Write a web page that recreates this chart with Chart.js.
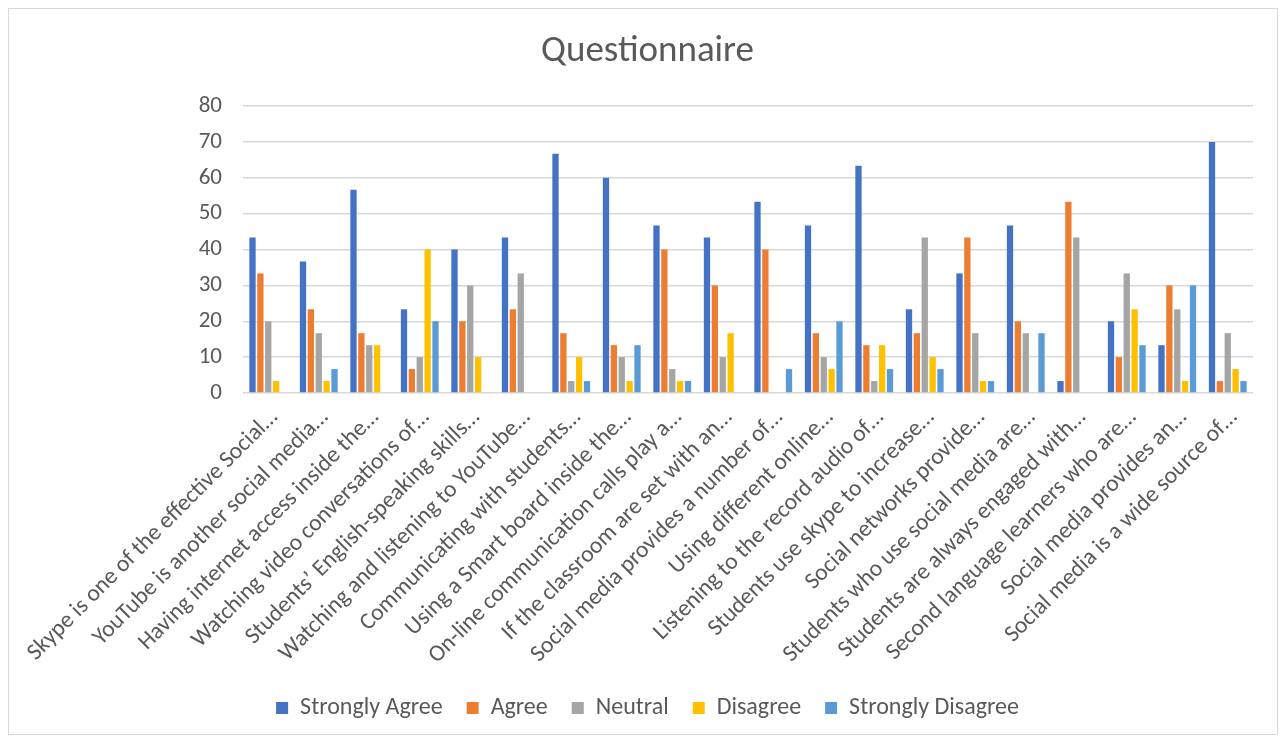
<!DOCTYPE html>
<html>
<head>
<meta charset="utf-8">
<title>Questionnaire</title>
<script src="https://cdn.jsdelivr.net/npm/chart.js@4.4.1/dist/chart.umd.min.js"></script>
<style>
  body { margin: 0; background: #fff; }
  #frame { position: absolute; left: 8px; top: 8px; width: 1270px; height: 727px; border: 1px solid #d9d9d9; box-sizing: border-box; }
  #chart { position: absolute; left: 0; top: 0; }
</style>
</head>
<body>
<div id="frame"></div>
<canvas id="chart" width="1285" height="740"></canvas>
<script>
const statements = [
  'Skype is one of the effective Social…',
  'YouTube is another social media…',
  'Having internet access inside the…',
  'Watching video conversations of…',
  'Students’ English-speaking skills…',
  'Watching and listening to YouTube…',
  'Communicating with students…',
  'Using a Smart board inside the…',
  'On-line communication calls play a…',
  'If the classroom are set with an…',
  'Social media provides a number of…',
  'Using different online…',
  'Listening to the record audio of…',
  'Students use skype to increase…',
  'Social networks provide…',
  'Students who use social media are…',
  'Students are always engaged with…',
  'Second language learners who are…',
  'Social media provides an…',
  'Social media is a wide source of…'
];

// percentage of respondents per answer
const stronglyAgree    = [43.33, 36.67, 56.67, 23.33, 40, 43.33, 66.67, 60, 46.67, 43.33, 53.33, 46.67, 63.33, 23.33, 33.33, 46.67, 3.33, 20, 13.33, 70];
const agree            = [33.33, 23.33, 16.67, 6.67, 20, 23.33, 16.67, 13.33, 40, 30, 40, 16.67, 13.33, 16.67, 43.33, 20, 53.33, 10, 30, 3.33];
const neutral          = [20, 16.67, 13.33, 10, 30, 33.33, 3.33, 10, 6.67, 10, 0, 10, 3.33, 43.33, 16.67, 16.67, 43.33, 33.33, 23.33, 16.67];
const disagree         = [3.33, 3.33, 13.33, 40, 10, 0, 10, 3.33, 3.33, 16.67, 0, 6.67, 13.33, 10, 3.33, 0, 0, 23.33, 3.33, 6.67];
const stronglyDisagree = [0, 6.67, 0, 20, 0, 0, 3.33, 13.33, 3.33, 0, 6.67, 20, 6.67, 6.67, 3.33, 16.67, 0, 13.33, 30, 3.33];

const yTicks = [0, 10, 20, 30, 40, 50, 60, 70, 80];

const textColor = '#595959';
const fontFamily = "Carlito, Calibri, 'Open Sans', sans-serif";

function series(label, data, color) {
  return {
    label: label,
    data: data,
    backgroundColor: color,
    borderWidth: 0,
    categoryPercentage: 0.78,
    barPercentage: 0.8
  };
}

new Chart(document.getElementById('chart'), {
  type: 'bar',
  data: {
    labels: statements,
    datasets: [
      series('Strongly Agree', stronglyAgree, '#4472C4'),
      series('Agree', agree, '#ED7D31'),
      series('Neutral', neutral, '#A5A5A5'),
      series('Disagree', disagree, '#FFC000'),
      series('Strongly Disagree', stronglyDisagree, '#5B9BD5')
    ]
  },
  options: {
    responsive: false,
    animation: false,
    layout: { padding: { left: 42, right: 32, top: 22, bottom: 10 } },
    plugins: {
      title: {
        display: true,
        text: 'Questionnaire',
        color: textColor,
        font: { family: fontFamily, size: 37, weight: 'normal' },
        padding: { top: 8, bottom: 31.6 }
      },
      legend: {
        position: 'bottom',
        labels: {
          color: textColor,
          font: { family: fontFamily, size: 24 },
          boxWidth: 12,
          boxHeight: 12,
          padding: 24
        }
      },
      tooltip: { enabled: false }
    },
    scales: {
      x: {
        grid: { display: false },
        border: { display: false },
        ticks: {
          color: textColor,
          font: { family: fontFamily, size: 23.5 },
          autoSkip: false,
          minRotation: 45,
          maxRotation: 45,
          labelOffset: 6
        },
        afterFit: function(scale) { scale.height = 279; }
      },
      y: {
        min: 0,
        max: 80,
        afterBuildTicks: function(scale) { scale.ticks = yTicks.map(v => ({ value: v })); },
        grid: { color: '#d9d9d9', lineWidth: 1.5, drawTicks: false },
        border: { display: false },
        ticks: {
          color: textColor,
          font: { family: fontFamily, size: 23 },
          padding: 21
        },
        afterFit: function(scale) { scale.width = 201; }
      }
    }
  }
});
</script>
</body>
</html>
